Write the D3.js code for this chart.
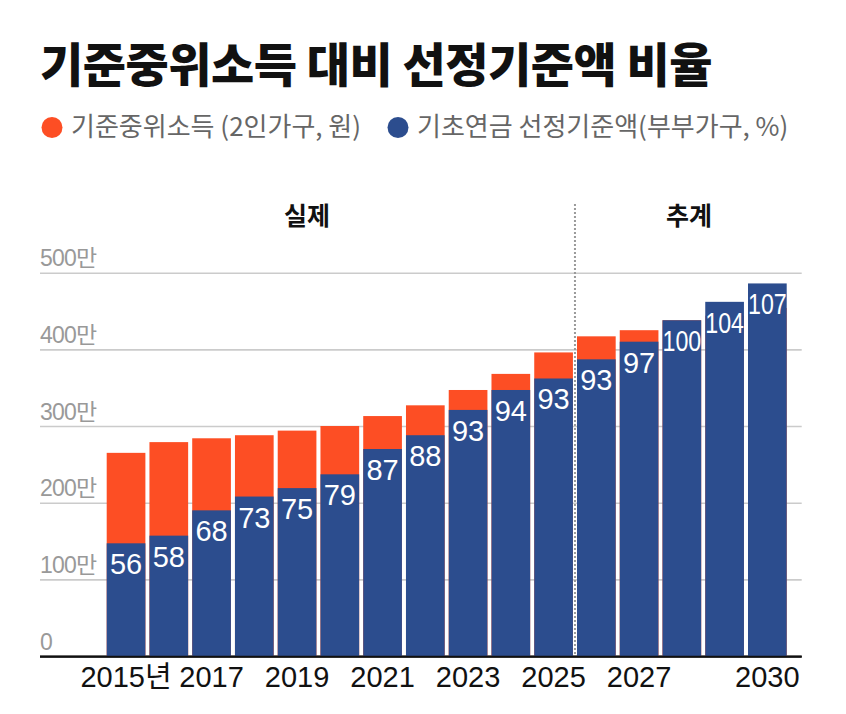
<!DOCTYPE html>
<html>
<head>
<meta charset="utf-8">
<script src="https://cdn.jsdelivr.net/npm/d3@7"></script>
<style>
  body { margin: 0; background: #fff; }
  svg { display: block; }
  .kr { font-family: "Noto Sans CJK KR", "Noto Sans", sans-serif; }
  .num { font-family: "Liberation Sans", Arial, "Noto Sans CJK KR", sans-serif; }
</style>
</head>
<body>
<svg id="chart" width="846" height="714"></svg>
<script>
// years on the x axis
const years = ['2015','2016','2017','2018','2019','2020','2021','2022',
               '2023','2024','2025','2026','2027','2028','2029','2030'];
// 기준중위소득 (2인가구), 만원
const medianIncome = [265, 279, 284, 288, 294, 300, 313, 327, 347, 368, 396, 417, 425, 438, 444, 454];
// 기초연금 선정기준액 (부부가구), 만원
const threshold = [147, 157, 190, 208, 219, 237, 270, 288, 321, 347, 362, 387, 410, 438, 462, 486];
// 비율 (%)
const ratio = [56, 58, 68, 73, 75, 79, 87, 88, 93, 94, 93, 93, 97, 100, 104, 107];

const yTicks = [0, 100, 200, 300, 400, 500];
const xTickYears = ['2015','2017','2019','2021','2023','2025','2027','2030'];
const sections = [{label: '실제', x: 307}, {label: '추계', x: 689}];
const lastActual = '2025';

const ORANGE = '#fd4e24';
const BLUE = '#2c4d8e';

const svg = d3.select('#chart');

const x = d3.scaleBand()
    .domain(years)
    .range([106.7, 786.7])
    .paddingInner(0.095)
    .paddingOuter(0);

const y = d3.scaleLinear()
    .domain([0, 500])
    .range([656, 272.7]);

// title
svg.append('text')
    .attr('class', 'kr')
    .attr('x', 40)
    .attr('y', 82)
    .attr('font-size', 47)
    .attr('font-weight', 900)
    .attr('letter-spacing', -0.5)
    .attr('fill', '#111')
    .text('기준중위소득 대비 선정기준액 비율');

// legend
const legend = [
    {label: '기준중위소득 (2인가구, 원)', color: ORANGE, cx: 52, tx: 71},
    {label: '기초연금 선정기준액(부부가구, %)', color: BLUE, cx: 398, tx: 417}
];
legend.forEach(d => {
    svg.append('circle')
        .attr('cx', d.cx).attr('cy', 127.5).attr('r', 10.5)
        .attr('fill', d.color);
    svg.append('text')
        .attr('class', 'kr')
        .attr('x', d.tx).attr('y', 136)
        .attr('font-size', 26)
        .attr('fill', '#666')
        .text(d.label);
});

// gridlines + y labels
const yAxis = svg.append('g')
    .attr('transform', 'translate(40,0)')
    .call(d3.axisLeft(y)
        .tickValues(yTicks)
        .tickSize(-(801.7 - 40))
        .tickFormat(d => d === 0 ? '0' : d + '만'));
yAxis.select('.domain').remove();
yAxis.selectAll('.tick line')
    .attr('stroke', d => d === 0 ? '#111' : '#cbcbcb')
    .attr('stroke-width', d => d === 0 ? 2 : 1.6);
yAxis.selectAll('.tick text')
    .attr('class', 'num')
    .attr('x', 0)
    .attr('dy', -7)
    .attr('text-anchor', 'start')
    .attr('font-size', 23)
    .attr('letter-spacing', -0.8)
    .attr('fill', '#999');

// bars: median income behind, threshold in front
svg.append('g').selectAll('rect')
    .data(years)
    .join('rect')
    .attr('x', d => x(d))
    .attr('width', x.bandwidth())
    .attr('y', (d, i) => y(medianIncome[i]))
    .attr('height', (d, i) => y(0) - y(medianIncome[i]))
    .attr('fill', ORANGE);

svg.append('g').selectAll('rect')
    .data(years)
    .join('rect')
    .attr('x', d => x(d))
    .attr('width', x.bandwidth())
    .attr('y', (d, i) => y(threshold[i]))
    .attr('height', (d, i) => y(0) - y(threshold[i]))
    .attr('fill', BLUE);

// ratio labels
svg.append('g').selectAll('text')
    .data(years)
    .join('text')
    .attr('class', 'num')
    .attr('x', d => x(d) + x.bandwidth() / 2)
    .attr('y', (d, i) => y(threshold[i]) + 31)
    .attr('text-anchor', 'middle')
    .attr('font-size', 29)
    .attr('fill', '#fff')
    .each(function(d, i){
        if (ratio[i] >= 100) {
            d3.select(this)
                .attr('textLength', x.bandwidth())
                .attr('lengthAdjust', 'spacingAndGlyphs');
        }
    })
    .text((d, i) => ratio[i]);

// baseline on top of the bars
svg.append('line')
    .attr('x1', 40).attr('x2', 801.7)
    .attr('y1', y(0) + 0.7).attr('y2', y(0) + 0.7)
    .attr('stroke', '#111')
    .attr('stroke-width', 2);

// actual / projection divider
const gap = x.step() - x.bandwidth();
const divX = x(lastActual) + x.bandwidth() + gap / 2;
svg.append('line')
    .attr('x1', divX).attr('x2', divX)
    .attr('y1', 204).attr('y2', y(0))
    .attr('stroke', '#9a9a9a')
    .attr('stroke-width', 2)
    .attr('stroke-dasharray', '2,2');

sections.forEach(s => {
    svg.append('text')
        .attr('class', 'kr')
        .attr('x', s.x).attr('y', 225)
        .attr('text-anchor', 'middle')
        .attr('font-size', 25)
        .attr('font-weight', 700)
        .attr('fill', '#111')
        .text(s.label);
});

// x axis labels
const xAxis = svg.append('g')
    .attr('transform', `translate(0,${y(0)})`)
    .call(d3.axisBottom(x)
        .tickValues(xTickYears)
        .tickSize(0)
        .tickFormat(d => d === '2015' ? d + '년' : d));
xAxis.select('.domain').remove();
xAxis.selectAll('.tick text')
    .attr('class', 'num')
    .attr('y', 31)
    .attr('dy', 0)
    .attr('font-size', 29)
    .attr('fill', '#111');
</script>
</body>
</html>
